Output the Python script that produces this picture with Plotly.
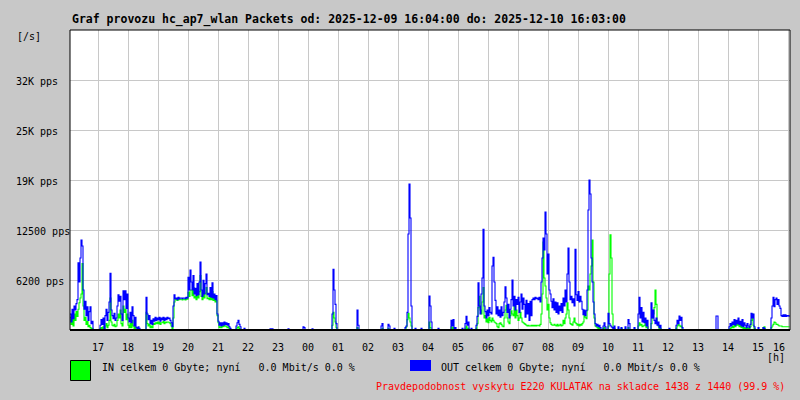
import plotly.graph_objects as go

# ---------------- data (packets per second, sampled every 2 minutes) ----------------
SAMPLE_MIN = 2
burst_start = ["16:04", "17:04", "18:36", "21:52", "22:44", "23:20", "23:50", "00:08",
               "00:48", "01:38", "02:26", "02:40", "02:52", "03:14", "03:34", "03:46",
               "04:02", "04:20", "04:46", "05:08", "05:14", "05:36", "10:12", "10:20",
               "10:26", "10:34", "10:40", "10:52", "11:00", "11:26", "12:02", "12:16",
               "13:36", "14:02", "15:00", "15:10", "15:26"]

burst_out = [
    [2000, 1000, 2600, 1400, 3000, 2500, 3300, 3800, 8400, 6000, 9000, 11250, 10500, 5000, 2600, 3600,
     1800, 2900, 1200, 2300, 2900, 800, 1100, 0],
    [600, 1300, 700, 1500, 0, 1800, 2600, 1200, 2200, 3500, 7100, 2500, 1800, 1400, 2100, 1200, 1500,
     3000, 4400, 3600, 4200, 2000, 1200, 4900, 3800, 4900, 2700, 4500, 1500, 1000, 2200, 900, 2900,
     1800, 500, 1600, 300, 0, 400, 200, 0],
    [4100, 2000, 1300, 1800, 800, 1200, 700, 1400, 1100, 1600, 1200, 1500, 1300, 1600, 1100, 1500,
     1300, 1600, 1200, 1500, 1300, 1600, 1400, 1500, 1200, 900, 400, 3000, 4400, 3900, 4000, 3800,
     4100, 3900, 4000, 4000, 3900, 4000, 4000, 3900, 4100, 4000, 6600, 5000, 7500, 6000, 5000, 6800,
     4500, 5200, 4300, 5800, 4400, 6000, 8500, 5000, 4200, 6200, 4500, 5800, 7000, 4400, 4600, 4200,
     5300, 4100, 5900, 4000, 4500, 3800, 4300, 2000, 1100, 600, 900, 500, 900, 600, 1000, 700, 900,
     600, 800, 400, 200, 0, 0, 0, 0, 0, 500, 900, 1200, 700, 400, 0],
    [200, 0],
    [150, 0, 150, 0],
    [150, 0],
    [400, 300, 0],
    [150, 0],
    [2000, 7600, 5000, 3200, 800, 0],
    [2500, 600, 0],
    [500, 800, 0],
    [700, 500, 0],
    [200, 0],
    [300, 500, 2200, 12000, 18250, 14000, 3000, 0],
    [200, 0],
    [200, 0],
    [4250, 3000, 1000, 0],
    [200, 0],
    [1200, 500, 1300, 0, 300, 0],
    [200, 0],
    [800, 1700, 600, 1000, 0, 0, 200, 0],
    [600, 1700, 5900, 3000, 2000, 4500, 6500, 12600, 3000, 2300, 1500, 2500, 1800, 2800, 2200, 2000,
     8000, 9100, 6000, 3700, 2000, 2900, 1800, 2500, 1600, 2900, 1800, 2200, 3500, 5400, 4000, 2200,
     3200, 1500, 2600, 3800, 6250, 3000, 4200, 2500, 3800, 3200, 4100, 2200, 3500, 4500, 2600, 4000,
     3200, 1600, 3700, 2000, 3300, 1200, 3600, 1800, 3800, 4000, 3800, 4100, 3900, 4000, 3800, 4100,
     3500, 6000, 9000, 11500, 10000, 14750, 12000, 7000, 9500, 5000, 4500, 3600, 2800, 3900, 2500,
     3500, 2200, 3400, 2000, 3000, 2400, 3300, 2200, 4000, 3000, 5000, 3500, 7000, 10250, 6000, 3800,
     4200, 3400, 3900, 3000, 10100, 4400, 3700, 4800, 3500, 4200, 3600, 2600, 1900, 2500, 1800, 2400,
     5000, 15000, 18750, 17000, 9000, 6000, 3500, 2000, 800, 500, 700, 400, 600, 300, 0, 0, 500, 900,
     400, 0, 0, 2100, 800, 600, 400, 300, 0],
    [500, 0],
    [400, 0],
    [300, 0],
    [400, 0],
    [1300, 800, 0],
    [300, 0],
    [2000, 4100, 1500, 2800, 1000, 2200, 900, 1500, 500, 1200, 0],
    [3400, 1500, 2500, 1200, 800, 1500, 600, 1000, 300, 600, 0],
    [200, 0],
    [600, 1200, 800, 1750, 1200, 1600, 300, 0],
    [1750, 1750, 0],
    [400, 800, 500, 1000, 700, 1300, 600, 1200, 800, 1500, 700, 1100, 500, 1300, 400, 900, 600, 300,
     800, 500, 300, 700, 2100, 1500, 2000, 400, 0],
    [300, 0],
    [300, 200, 0],
    [1500, 3000, 4100, 2900, 3800, 4000, 3200, 3800, 3000, 2700, 1800, 1700, 1900, 1700, 1900, 1700,
     1800, 1800, 1700],
]

burst_in = [
    [1600, 700, 1800, 500, 2000, 1200, 2300, 1700, 2600, 3400, 4000, 4500, 8300, 3000, 1200, 1600,
     700, 1100, 400, 600, 300, 200, 200, 0],
    [200, 300, 100, 400, 0, 500, 800, 300, 600, 1200, 4000, 1000, 600, 500, 700, 400, 500, 1200, 2000,
     1500, 2500, 800, 500, 3000, 2200, 2600, 1300, 2000, 600, 300, 800, 300, 1200, 500, 100, 400, 100,
     0, 100, 0, 0],
    [2200, 800, 500, 700, 300, 500, 300, 800, 700, 900, 800, 1000, 800, 1000, 700, 900, 900, 1100,
     800, 1000, 900, 1000, 1000, 900, 800, 500, 200, 1500, 3500, 3800, 3850, 3700, 3950, 3800, 3850,
     3850, 3750, 3850, 3850, 3750, 3950, 3850, 4700, 4200, 5000, 5000, 4300, 5300, 4000, 4200, 3800,
     4500, 4000, 4800, 6800, 4200, 3800, 4800, 4000, 4600, 5300, 3900, 4000, 3800, 4300, 3800, 4800,
     3700, 4000, 3500, 3700, 1800, 900, 300, 400, 300, 500, 400, 600, 500, 400, 300, 400, 200, 0, 0,
     0, 0, 0, 0, 100, 300, 400, 200, 100, 0],
    [0, 0],
    [0, 0, 0, 0],
    [0, 0],
    [0, 0, 0],
    [0, 0],
    [600, 2200, 1500, 1000, 300, 0],
    [300, 100, 0],
    [0, 200, 0],
    [200, 0, 0],
    [0, 0],
    [0, 400, 1300, 2100, 1500, 1000, 500, 0],
    [0, 0],
    [0, 0],
    [1000, 300, 0, 0],
    [0, 0],
    [400, 100, 300, 0, 0, 0],
    [0, 0],
    [200, 500, 100, 200, 0, 0, 0, 0],
    [200, 800, 2800, 4200, 2500, 2000, 3500, 5300, 1500, 1800, 1000, 1400, 900, 1600, 1200, 1000,
     1500, 1200, 1000, 900, 800, 400, 300, 800, 900, 700, 500, 400, 1500, 2500, 3100, 1500, 1000, 800,
     1800, 2400, 2000, 1800, 3000, 1500, 2500, 1800, 1200, 1500, 2200, 1500, 1000, 900, 800, 700, 600,
     500, 600, 500, 500, 600, 500, 600, 500, 600, 500, 600, 600, 500, 700, 2000, 4500, 11000, 6500,
     5500, 4000, 2500, 3200, 1500, 900, 700, 600, 600, 700, 600, 500, 700, 500, 600, 700, 500, 600,
     1200, 800, 1500, 2000, 3400, 2500, 1500, 800, 700, 600, 1000, 1500, 900, 800, 600, 700, 500, 700,
     600, 800, 1000, 1800, 1600, 1400, 2500, 5500, 5000, 7000, 8000, 11250, 6000, 1500, 500, 400, 300,
     200, 300, 100, 0, 0, 200, 300, 100, 0, 0, 400, 7000, 11900, 9000, 2000, 0],
    [200, 0],
    [100, 0],
    [200, 0],
    [100, 0],
    [300, 0, 0],
    [100, 0],
    [500, 900, 600, 700, 400, 500, 600, 1000, 300, 400, 0],
    [800, 1500, 2000, 2800, 5000, 3200, 800, 500, 200, 200, 0],
    [0, 0],
    [200, 500, 700, 600, 400, 500, 0, 0],
    [0, 0, 0],
    [100, 200, 300, 500, 300, 800, 400, 700, 600, 900, 400, 700, 300, 600, 200, 300, 200, 100, 300,
     200, 100, 400, 1200, 2000, 600, 200, 0],
    [0, 0],
    [300, 400, 0],
    [300, 500, 700, 1000, 900, 700, 700, 600, 500, 500, 500, 400, 400, 400, 400, 400, 400, 400, 400],
]

hour_labels = ["17", "18", "19", "20", "21", "22", "23", "00", "01", "02", "03", "04",
               "05", "06", "07", "08", "09", "10", "11", "12", "13", "14", "15", "16"]
y_tick_vals = [6250, 12500, 18750, 25000, 31250]
y_tick_text = ["6200 pps", "12500 pps", "19K pps", "25K pps", "32K pps"]
Y_MAX = 37500
START_MIN = 16 * 60 + 4
TOTAL_MIN = 1440

title_text = "Graf provozu hc_ap7_wlan Packets od: 2025-12-09 16:04:00 do: 2025-12-10 16:03:00"
in_text = "IN celkem 0 Gbyte; nyní   0.0 Mbit/s 0.0 %"
out_text = "OUT celkem 0 Gbyte; nyní   0.0 Mbit/s 0.0 %"
note_text = "Pravdepodobnost vyskytu E220 KULATAK na skladce 1438 z 1440 (99.9 %)"


def to_offset(t):
    h, m = map(int, t.split(":"))
    v = h * 60 + m - START_MIN
    return v + 1440 if v < 0 else v


xs, ys_out, ys_in = [], [], []
for st, o, i in zip(burst_start, burst_out, burst_in):
    m0 = to_offset(st)
    for k, (vo, vi) in enumerate(zip(o, i)):
        xs.append(m0 + k * SAMPLE_MIN)
        ys_out.append(vo)
        ys_in.append(vi)
xs.append(TOTAL_MIN - 1)
ys_out.append(ys_out[-1])
ys_in.append(ys_in[-1])

# ---------------- layout geometry ----------------
W, H = 800, 400
L, R, T, B = 70, 10, 30, 70
PW, PH = W - L - R, H - T - B
BG = "#c8c8c8"
GRID = "#c8c8c8"
FONT = "DejaVu Sans Mono"


def px(x):
    return (x - L) / PW


def py(y):
    return (T + PH - y) / PH


fig = go.Figure()
fig.add_trace(go.Scatter(x=xs, y=ys_in, mode="lines", line=dict(color="#00ff00", width=1.1, shape="hv"),
                         hoverinfo="skip", showlegend=False))
fig.add_trace(go.Scatter(x=xs, y=ys_out, mode="lines", line=dict(color="#0000ff", width=1.1, shape="hv"),
                         hoverinfo="skip", showlegend=False))

hour_pos = [(60 - 4) + 60 * k for k in range(len(hour_labels))]

ann = []
ann.append(dict(x=px(70), y=py(19), xref="paper", yref="paper", text="<b>" + title_text + "</b>",
                showarrow=False, xanchor="left", yanchor="middle",
                font=dict(family=FONT, size=11.5, color="black")))
ann.append(dict(x=px(15), y=py(37), xref="paper", yref="paper", text="[/s]", showarrow=False,
                xanchor="left", yanchor="middle", font=dict(family=FONT, size=10, color="black")))
for v, t in zip(y_tick_vals, y_tick_text):
    ann.append(dict(x=px(14), y=v, xref="paper", yref="y", text=t, showarrow=False, xanchor="left",
                    yanchor="middle", yshift=-1.5, font=dict(family=FONT, size=10, color="black")))
for i, (m, t) in enumerate(zip(hour_pos, hour_labels)):
    if i == len(hour_labels) - 1:
        ann.append(dict(x=px(787), y=py(347), xref="paper", yref="paper", text=t, showarrow=False,
                        xanchor="right", yanchor="middle", font=dict(family=FONT, size=10, color="black")))
    else:
        ann.append(dict(x=m, y=py(347), xref="x", yref="paper", text=t, showarrow=False,
                        xanchor="center", yanchor="middle", font=dict(family=FONT, size=10, color="black")))
ann.append(dict(x=px(787), y=py(357), xref="paper", yref="paper", text="[h]", showarrow=False,
                xanchor="right", yanchor="middle", font=dict(family=FONT, size=10, color="black")))
ann.append(dict(x=px(100), y=py(367), xref="paper", yref="paper", text=in_text, showarrow=False,
                xanchor="left", yanchor="middle", font=dict(family=FONT, size=10, color="black")))
ann.append(dict(x=px(439), y=py(367), xref="paper", yref="paper", text=out_text, showarrow=False,
                xanchor="left", yanchor="middle", font=dict(family=FONT, size=10, color="black")))
ann.append(dict(x=px(787), y=py(386), xref="paper", yref="paper", text=note_text, showarrow=False,
                xanchor="right", yanchor="middle", font=dict(family=FONT, size=10, color="#ff0000")))

shapes = [
    dict(type="rect", xref="paper", yref="paper", x0=px(70.5), x1=px(90.5), y0=py(360.5), y1=py(380.5),
         fillcolor="#00ff00", line=dict(color="black", width=1)),
    dict(type="rect", xref="paper", yref="paper", x0=px(410), x1=px(431), y0=py(360), y1=py(371),
         fillcolor="#0000ff", line=dict(width=0)),
    dict(type="line", xref="paper", yref="paper", x0=0, x1=0, y0=0, y1=1, line=dict(color="black", width=1)),
    dict(type="line", xref="paper", yref="paper", x0=1, x1=1, y0=0, y1=1, line=dict(color="black", width=1)),
    dict(type="line", xref="paper", yref="paper", x0=0, x1=1, y0=1, y1=1, line=dict(color="black", width=1)),
    dict(type="line", xref="paper", yref="paper", x0=0, x1=1, y0=0, y1=0, line=dict(color="black", width=2)),
]

fig.update_layout(
    width=W, height=H, margin=dict(l=L, r=R, t=T, b=B, pad=0),
    paper_bgcolor=BG, plot_bgcolor="white",
    annotations=ann, shapes=shapes, showlegend=False,
    xaxis=dict(range=[0, TOTAL_MIN], tickvals=hour_pos, showticklabels=False, showgrid=True,
               gridcolor=GRID, gridwidth=1, zeroline=False, showline=False, ticks="", fixedrange=True),
    yaxis=dict(range=[0, Y_MAX], tickvals=y_tick_vals, showticklabels=False, showgrid=True,
               gridcolor=GRID, gridwidth=1, zeroline=False, showline=False, ticks="outside",
               ticklen=2, tickcolor=GRID, fixedrange=True),
)

fig.write_html("out.html", config={"displayModeBar": False},
               post_script="document.body.style.margin='0';document.body.style.background='" + BG + "';")
